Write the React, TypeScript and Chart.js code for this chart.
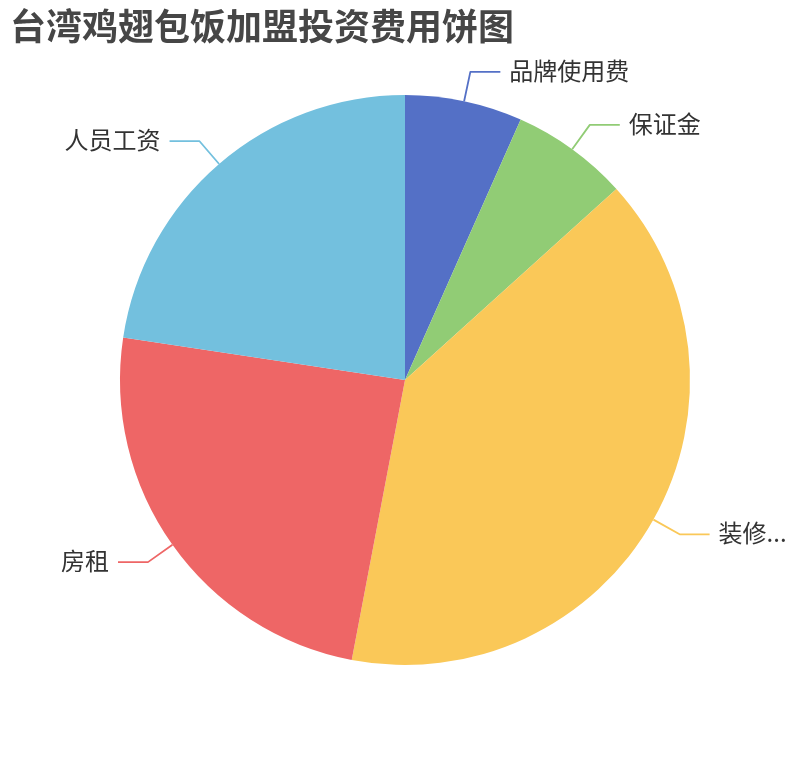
import React, { useEffect, useRef } from "react";
import { Chart, registerables } from "chart.js";

Chart.register(...registerables);

const TITLE = "台湾鸡翅包饭加盟投资费用饼图";
const categories = ["品牌使用费", "保证金", "装修...", "房租", "人员工资"];
const values = [3, 3, 17.9, 11, 10.2];
const colors = ["#5470c6", "#91cc75", "#fac858", "#ee6666", "#73c0de"];

const FONT = "'Noto Sans CJK SC', 'Noto Sans', sans-serif";

const titlePlugin = {
  id: "echartsTitle",
  afterDraw(chart: any) {
    const ctx = chart.ctx;
    ctx.save();
    ctx.font = `bold 36px ${FONT}`;
    ctx.fillStyle = "#464646";
    ctx.textAlign = "left";
    ctx.textBaseline = "middle";
    ctx.fillText(TITLE, 10, 26);
    ctx.restore();
  },
};

const labelPlugin = {
  id: "outsideLabels",
  afterDatasetsDraw(chart: any) {
    const ctx = chart.ctx;
    const meta = chart.getDatasetMeta(0);
    const len1 = 30;
    const len2 = 30;
    ctx.save();
    meta.data.forEach((arc: any, i: number) => {
      const { x, y, startAngle, endAngle, outerRadius } = arc.getProps(
        ["x", "y", "startAngle", "endAngle", "outerRadius"],
        true
      );
      const mid = (startAngle + endAngle) / 2;
      const c = Math.cos(mid);
      const s = Math.sin(mid);
      const p0x = x + outerRadius * c;
      const p0y = y + outerRadius * s;
      const p1x = x + (outerRadius + len1) * c;
      const p1y = y + (outerRadius + len1) * s;
      const right = c >= 0;
      const p2x = p1x + (right ? len2 : -len2);
      ctx.beginPath();
      ctx.strokeStyle = colors[i];
      ctx.lineWidth = 1.8;
      ctx.lineJoin = "round";
      ctx.moveTo(p0x, p0y);
      ctx.lineTo(p1x, p1y);
      ctx.lineTo(p2x, p1y);
      ctx.stroke();
      ctx.font = `24px ${FONT}`;
      ctx.fillStyle = "#333333";
      ctx.textBaseline = "middle";
      ctx.textAlign = right ? "left" : "right";
      ctx.fillText(categories[i], p2x + (right ? 9 : -9), p1y - 1);
    });
    ctx.restore();
  },
};

export default function App() {
  const ref = useRef<HTMLCanvasElement | null>(null);
  useEffect(() => {
    if (!ref.current) return;
    const chart = new Chart(ref.current, {
      type: "pie",
      data: {
        labels: categories,
        datasets: [
          {
            data: values,
            backgroundColor: colors,
            borderColor: "#ffffff",
            borderWidth: 0,
            hoverOffset: 0,
          },
        ],
      },
      options: {
        responsive: false,
        animation: false,
        layout: { padding: { top: 95, bottom: 95, left: 120, right: 120 } },
        plugins: {
          legend: { display: false },
          tooltip: { enabled: false },
          title: { display: false },
        },
      },
      plugins: [labelPlugin, titlePlugin],
    });
    return () => chart.destroy();
  }, []);
  return (
    <div style={{ position: "absolute", left: 0, top: 0, width: 810, height: 760, background: "#ffffff" }}>
      <canvas ref={ref} width={810} height={760} style={{ display: "block", width: 810, height: 760 }} />
    </div>
  );
}
